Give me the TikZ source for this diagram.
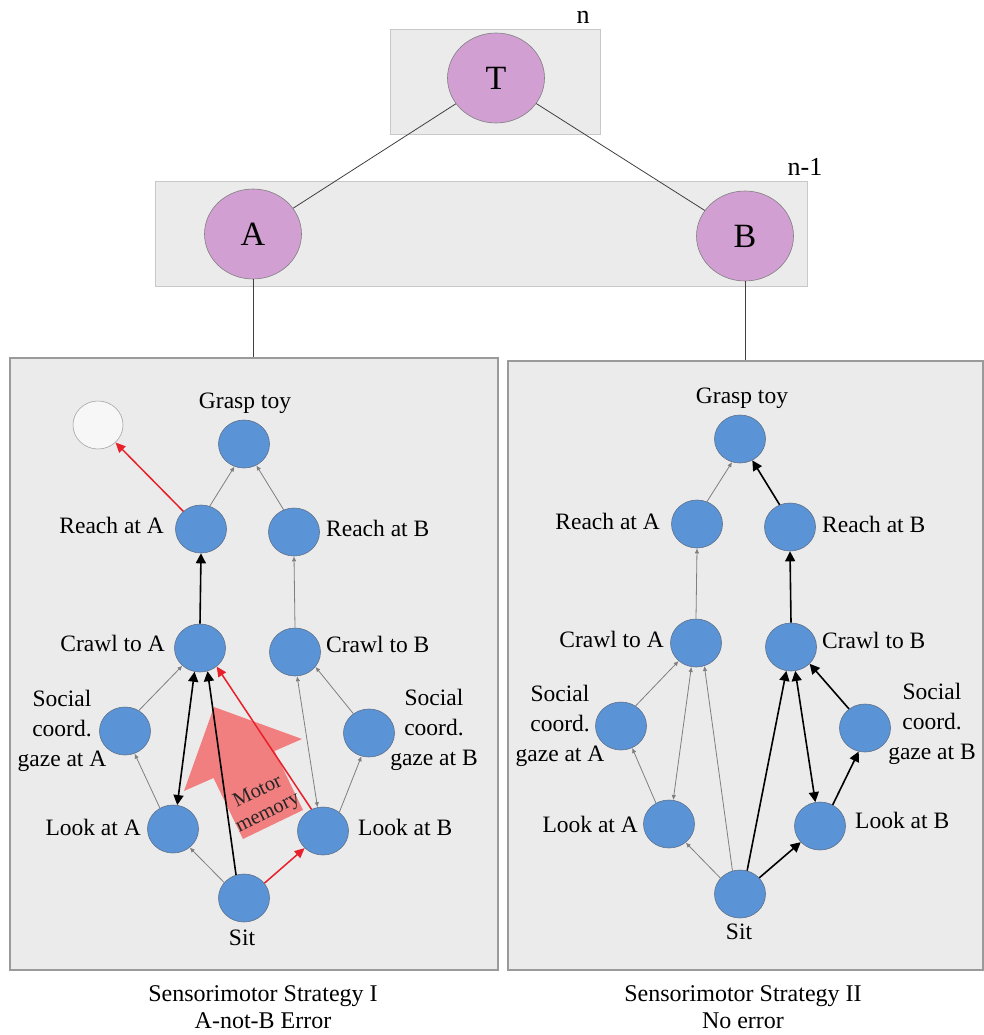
\documentclass[tikz,border=0pt]{standalone}
\usepackage{fontspec}
\setmainfont{Liberation Serif}
\usetikzlibrary{arrows.meta,shapes.geometric}
\definecolor{boxfill}{HTML}{EBEBEB}
\definecolor{boxline}{HTML}{C8C8C8}
\definecolor{panelline}{HTML}{9A9A9A}
\definecolor{purp}{HTML}{D29FD3}
\definecolor{blu}{HTML}{5A93D6}
\definecolor{bluline}{HTML}{5E7189}
\definecolor{redarrow}{HTML}{E8202A}
\definecolor{coral}{HTML}{F27F7F}
\definecolor{grayarrow}{HTML}{7F7F7F}
\begin{document}
\begin{tikzpicture}[x=1pt,y=-1pt,
  levelbox/.style={draw=boxline,fill=boxfill,line width=0.8pt,inner sep=0pt},
  panel/.style={draw=panelline,fill=boxfill,line width=1.1pt,inner sep=0pt},
  pnode/.style={ellipse,draw=gray,fill=purp,line width=0.6pt,minimum width=97pt,minimum height=90pt,inner sep=0pt,font=\fontsize{34}{36}\selectfont},
  bnode/.style={ellipse,draw=bluline,fill=blu,line width=0.6pt,minimum width=51pt,minimum height=48pt,inner sep=0pt},
  wnode/.style={ellipse,draw=gray!70,fill=white!97!black,line width=0.6pt,minimum width=50pt,minimum height=48pt,inner sep=0pt},
  lbl/.style={inner sep=0pt,font=\fontsize{23.5}{30}\selectfont,align=center},
  lvl/.style={inner sep=0pt,font=\fontsize{26}{30}\selectfont},
  captxt/.style={inner sep=0pt,font=\fontsize{24}{27.5}\selectfont,align=center},
  tree/.style={draw=black!75,line width=0.8pt},
  garrow/.style={draw=grayarrow,line width=0.8pt,-{Latex[length=5pt,width=4.5pt]}},
  gdouble/.style={draw=grayarrow,line width=0.8pt,{Latex[length=5pt,width=4.5pt]}-{Latex[length=5pt,width=4.5pt]}},
  barrow/.style={draw=black,line width=1.6pt,-{Triangle[length=10pt,width=10pt]}},
  bdouble/.style={draw=black,line width=1.6pt,{Triangle[length=10pt,width=10pt]}-{Triangle[length=10pt,width=10pt]}},
  rarrow/.style={draw=redarrow,line width=1.5pt,-{Triangle[length=10pt,width=9pt]}}
]
\useasboundingbox (0,0) rectangle (984,1035);

% level boxes
\node[levelbox,minimum width=210pt,minimum height=105pt] (box0) at (495,81.5) {};
\node[levelbox,minimum width=652pt,minimum height=105pt] (box1) at (481,233.5) {};
\node[lvl] (lvn) at (583,17) {n};
\node[lvl] (lvn1) at (805,167) {n-1};

% panels
\node[panel,minimum width=488pt,minimum height=612pt] (P1) at (254,664) {};
\node[panel,minimum width=475pt,minimum height=609pt] (P2) at (745.5,665.5) {};

% tree nodes
\node[pnode] (T) at (496,78) {T};
\node[pnode] (A) at (253,234) {A};
\node[pnode] (B) at (745,236) {B};
\draw[tree] (T) -- (A);
\draw[tree] (T) -- (B);
\draw[tree] (A.south) -- (A.south |- P1.north);
\draw[tree] (B.south) -- (B.south |- P2.north);

% motor memory arrow
\fill[coral] (214,707) -- (302,739) -- (274.5,751) -- (303,810) -- (243,839) -- (213.5,778) -- (184,791) -- cycle;

% ---------------- left panel ----------------
\node[bnode] (LG) at (244,444) {};
\node[wnode] (LW) at (98,425) {};
\node[bnode] (LRA) at (201,529) {};
\node[bnode] (LRB) at (294,532) {};
\node[bnode] (LCA) at (200,648) {};
\node[bnode] (LCB) at (295,652) {};
\node[bnode] (LSA) at (125,731) {};
\node[bnode] (LSB) at (369,733) {};
\node[bnode] (LLA) at (173,829) {};
\node[bnode] (LLB) at (323,831) {};
\node[bnode] (LS) at (244,898) {};

\node[lbl,anchor=mid] (tLG) at (245,406) {Grasp toy};
\node[lbl,anchor=mid east] (tLRA) at (164,531) {Reach at A};
\node[lbl,anchor=mid west] (tLRB) at (326,534) {Reach at B};
\node[lbl,anchor=mid east] (tLCA) at (165,649) {Crawl to A};
\node[lbl,anchor=mid west] (tLCB) at (326,650) {Crawl to B};
\node[lbl] (tLSA) at (62,731) {Social\\coord.\\gaze at A};
\node[lbl] (tLSB) at (434,730) {Social\\coord.\\gaze at B};
\node[lbl,anchor=mid east] (tLLA) at (141,833) {Look at A};
\node[lbl,anchor=mid west] (tLLB) at (358,833) {Look at B};
\node[lbl,anchor=mid] (tLS) at (242,943) {Sit};

\draw[garrow] (LRA.69) -- (LG.247);
\draw[garrow] (LRB.115) -- (LG.300);
\draw[rarrow] (LRA.135) -- (LW.-45);
\draw[barrow] (LCA.north) -- (LRA.south);
\draw[garrow] (LCB.north) -- (LRB.south);
\draw[garrow] (LSA.56) -- (LCA.225);
\draw[garrow] (LLA.122) -- (LSA.293);
\draw[garrow] (LS.142) -- (LLA.312);
\draw[bdouble] (LLA.80) -- (LCA.257);
\draw[barrow] (LS.109) -- (LCA.288);
\draw[rarrow] (LS.36) -- (LLB.223);
\draw[rarrow] (LLB.118) -- (LCA.312);
\draw[gdouble] (LLB.103) -- (LCB.275);
\draw[garrow] (LLB.49) -- (LSB.252);
\draw[garrow] (LSB.129) -- (LCB.324);

\node[inner sep=0pt,rotate=26,align=center,font=\fontsize{20.5}{23}\selectfont,text=black!85] (mm) at (263,803) {Motor\\memory};

% ---------------- right panel ----------------
\node[bnode] (RG) at (740,439) {};
\node[bnode] (RRA) at (697,524) {};
\node[bnode] (RRB) at (790,527) {};
\node[bnode] (RCA) at (696,643) {};
\node[bnode] (RCB) at (791,647) {};
\node[bnode] (RSA) at (621,726) {};
\node[bnode] (RSB) at (865,728) {};
\node[bnode] (RLA) at (669,824) {};
\node[bnode] (RLB) at (820,826) {};
\node[bnode] (RS) at (740,894) {};

\node[lbl,anchor=mid] (tRG) at (742,401) {Grasp toy};
\node[lbl,anchor=mid east] (tRRA) at (660,527) {Reach at A};
\node[lbl,anchor=mid west] (tRRB) at (822,530) {Reach at B};
\node[lbl,anchor=mid east] (tRCA) at (664,645) {Crawl to A};
\node[lbl,anchor=mid west] (tRCB) at (822,646) {Crawl to B};
\node[lbl] (tRSA) at (560,726) {Social\\coord.\\gaze at A};
\node[lbl] (tRSB) at (932,724) {Social\\coord.\\gaze at B};
\node[lbl,anchor=mid east] (tRLA) at (638,830) {Look at A};
\node[lbl,anchor=mid west] (tRLB) at (855,826) {Look at B};
\node[lbl,anchor=mid] (tRS) at (739,937) {Sit};

\draw[garrow] (RRA.66) -- (RG.251);
\draw[barrow] (RRB.115) -- (RG.300);
\draw[garrow] (RCA.north) -- (RRA.south);
\draw[barrow] (RCB.north) -- (RRB.south);
\draw[garrow] (RSA.54) -- (RCA.226);
\draw[garrow] (RLA.122) -- (RSA.297);
\draw[gdouble] (RLA.80) -- (RCA.259);
\draw[garrow] (RS.108) -- (RCA.290);
\draw[garrow] (RS.141) -- (RLA.312);
\draw[barrow] (RS.73) -- (RCB.259);
\draw[barrow] (RS.40) -- (RLB.220);
\draw[bdouble] (RLB.101) -- (RCB.280);
\draw[barrow] (RLB.59) -- (RSB.255);
\draw[barrow] (RSB.130) -- (RCB.318);

% captions
\node[captxt] (capL) at (263,1007) {Sensorimotor Strategy I\\A-not-B Error};
\node[captxt] (capR) at (743,1007) {Sensorimotor Strategy II\\No error};
\end{tikzpicture}
\end{document}
